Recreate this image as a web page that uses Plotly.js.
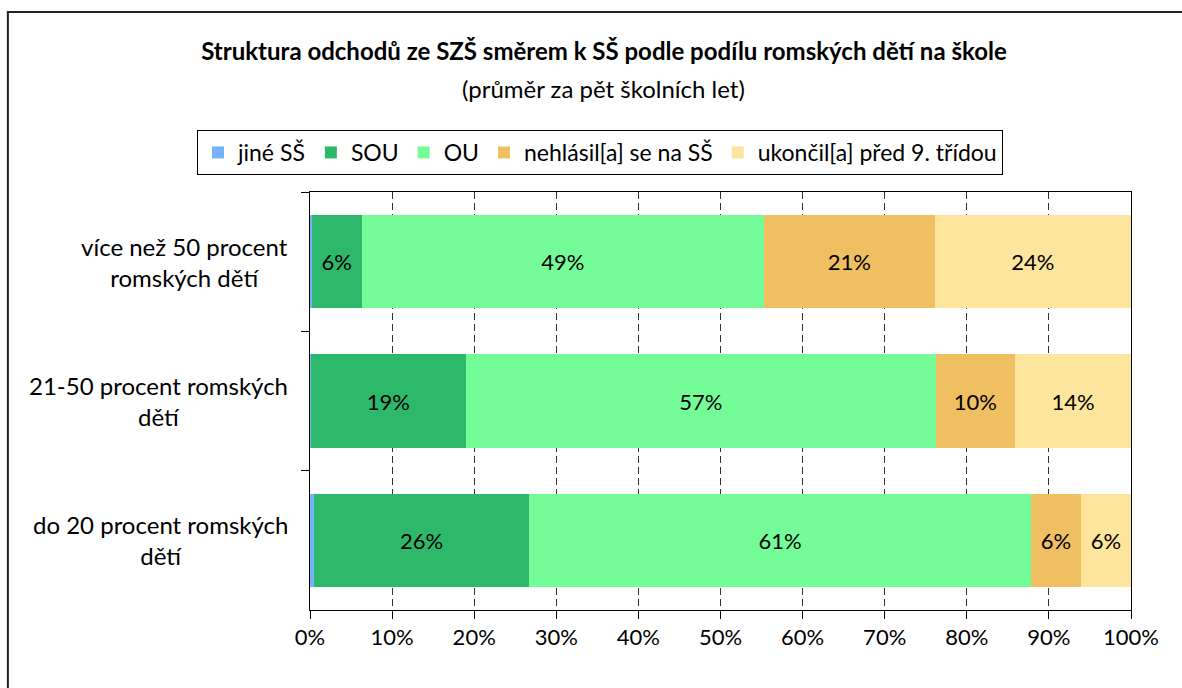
<!DOCTYPE html>
<html>
<head>
<meta charset="utf-8">
<script src="https://cdn.plot.ly/plotly-3.0.1.min.js"></script>
<style>
  html, body { margin: 0; padding: 0; background: #fff; }
  #chart { width: 1182px; height: 688px; }
</style>
</head>
<body>
<div id="chart"></div>
<script>
// categories, top to bottom
const categories = [
    'více než 50 procent romských dětí',
    '21-50 procent romských dětí',
    'do 20 procent romských dětí',
];
const categoryLabels = [
    'více než 50 procent<br>romských dětí',
    '21-50 procent romských<br>dětí',
    'do 20 procent romských<br>dětí',
];

const seriesNames = ['jiné SŠ', 'SOU', 'OU', 'nehlásil[a] se na SŠ', 'ukončil[a] před 9. třídou'];
const jineSS = [0.2, 0.1, 0.5];
const sou = [6.1, 18.9, 26.2];
const ou = [49.0, 57.2, 61.1];
const nehlasil = [20.8, 9.7, 6.1];
const ukoncil = [23.9, 14.1, 6.1];

const seriesValues = [jineSS, sou, ou, nehlasil, ukoncil];
const colors = ['#76b3f6', '#2db86b', '#74fc98', '#efbf62', '#fde59d'];
const xTicks = [0, 10, 20, 30, 40, 50, 60, 70, 80, 90, 100];

const font = 'Lato, "Open Sans", sans-serif';

const traces = seriesNames.map((name, i) => ({
    type: 'bar',
    orientation: 'h',
    name: name,
    x: seriesValues[i],
    y: categories,
    marker: { color: colors[i], line: { width: 0 } },
    text: i === 0 ? seriesValues[i].map(() => '') : seriesValues[i].map((v) => `${Math.round(v)}%`),
    textposition: i === 0 ? 'none' : 'inside',
    insidetextanchor: 'middle',
    constraintext: 'none',
    textfont: { family: font, size: 22, color: '#000' },
    hoverinfo: 'name+x',
}));

const annotations = categories.map((c, i) => ({
    xref: 'paper',
    yref: 'y',
    x: -0.0244,
    y: c,
    xanchor: 'right',
    yanchor: 'middle',
    align: 'center',
    text: categoryLabels[i],
    showarrow: false,
    font: { family: font, size: 24, color: '#000' },
}));

annotations.push({
    xref: 'paper',
    yref: 'paper',
    x: 0.358,
    y: (610 - 88) / 418,
    xanchor: 'center',
    yanchor: 'middle',
    text: '(průměr za pět školních let)',
    showarrow: false,
    font: { family: font, size: 24, color: '#000' },
});

Plotly.newPlot('chart', traces, {
    width: 1182,
    height: 688,
    barmode: 'stack',
    bargap: 0.33,
    margin: { l: 310, r: 51, t: 192, b: 78 },
    paper_bgcolor: '#ffffff',
    plot_bgcolor: '#ffffff',
    font: { family: font, size: 22, color: '#000' },
    title: {
        text: '<b>Struktura odchodů ze SZŠ směrem k SŠ podle podílu romských dětí na škole</b>',
        xref: 'container',
        x: 0.511,
        xanchor: 'center',
        yref: 'container',
        y: 1 - 52 / 688,
        yanchor: 'middle',
        font: { family: font, size: 24, color: '#000' },
    },
    showlegend: true,
    legend: {
        orientation: 'h',
        xref: 'container',
        yref: 'container',
        x: 600 / 1182,
        xanchor: 'center',
        y: 1 - 130 / 688,
        yanchor: 'top',
        bordercolor: '#000',
        borderwidth: 1,
        font: { family: font, size: 23, color: '#000' },
        traceorder: 'normal',
        itemwidth: 30,
    },
    xaxis: {
        range: [0, 100],
        tickvals: xTicks,
        ticktext: xTicks.map((v) => `${v}%`),
        ticks: 'outside',
        ticklen: 8,
        tickcolor: '#000',
        showline: true,
        linecolor: '#000',
        linewidth: 1,
        mirror: true,
        showgrid: true,
        gridcolor: '#333',
        griddash: '7px,4px',
        gridwidth: 1,
        zeroline: false,
        tickfont: { family: font, size: 22, color: '#000' },
        fixedrange: true,
    },
    yaxis: {
        type: 'category',
        categoryorder: 'array',
        categoryarray: categories,
        autorange: 'reversed',
        tickson: 'boundaries',
        ticks: 'outside',
        ticklen: 8,
        tickcolor: '#000',
        showticklabels: false,
        showgrid: false,
        showline: true,
        linecolor: '#000',
        linewidth: 1,
        mirror: true,
        zeroline: false,
        fixedrange: true,
    },
    annotations: annotations,
    shapes: [{
        type: 'rect',
        xref: 'paper',
        yref: 'paper',
        x0: -0.368,
        x1: 1.5,
        y0: -0.5,
        y1: (610 - 12) / 418,
        line: { color: '#222', width: 2 },
        fillcolor: 'rgba(0,0,0,0)',
        layer: 'below',
    }],
}, {
    displayModeBar: false,
    staticPlot: true,
});
</script>
</body>
</html>
